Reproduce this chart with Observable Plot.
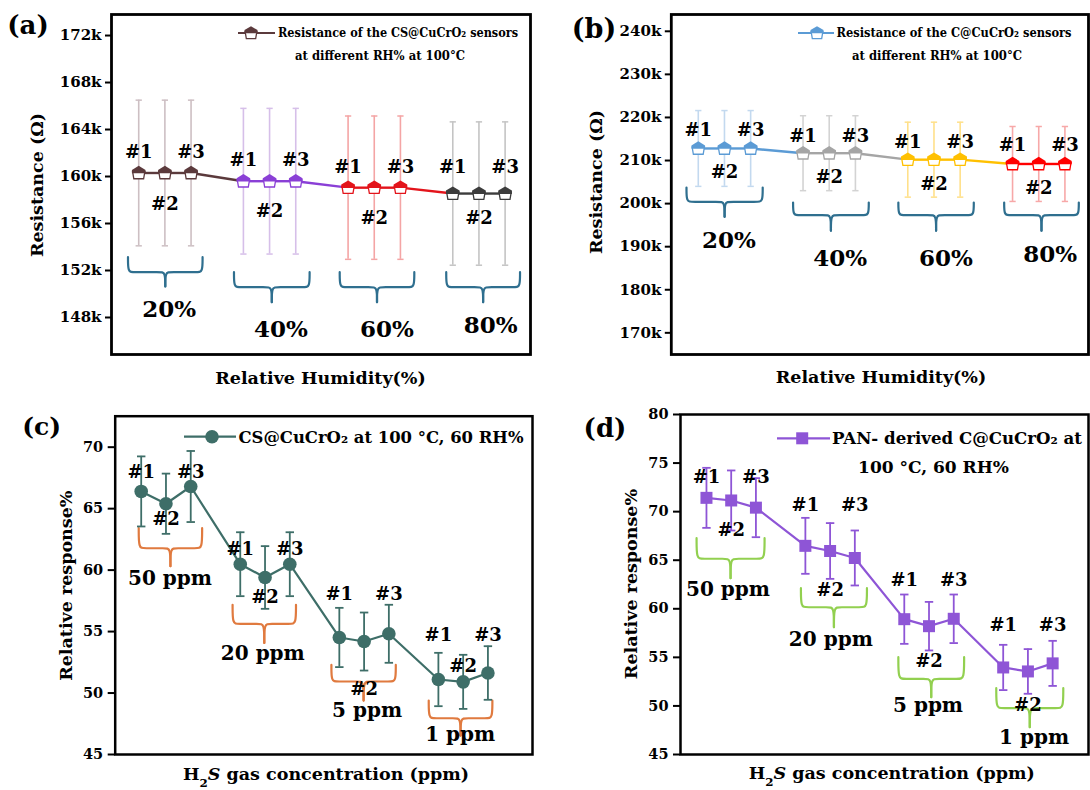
<!DOCTYPE html>
<html><head><meta charset="utf-8">
<script src="https://cdn.jsdelivr.net/npm/d3@7"></script>
<script src="https://cdn.jsdelivr.net/npm/@observablehq/plot@0.6"></script>
<style>
body{margin:0;background:#fff;}
#root{position:relative;width:1090px;height:790px;overflow:hidden;background:#fff;}
.panel{position:absolute;width:545px;height:395px;}
</style></head><body><div id="root"></div>
<script>
// ---------- DATA ----------
const sensors = ["#1", "#2", "#3"];
const rhGroups = ["20%", "40%", "60%", "80%"];
const ppmGroups = ["50 ppm", "20 ppm", "5 ppm", "1 ppm"];
// (a) CS@CuCrO2 resistance (kΩ) per RH group and sensor
const aRes = [[160.3, 160.3, 160.3], [159.6, 159.6, 159.6], [159.05, 159.05, 159.05], [158.55, 158.55, 158.55]];
const aErr = [6.2, 6.2, 6.1, 6.1];
// (b) C@CuCrO2 resistance (kΩ)
const bRes = [[212.8, 212.8, 212.8], [211.7, 211.7, 211.7], [210.2, 210.2, 210.2], [209.2, 209.2, 209.2]];
const bErr = [8.8, 8.7, 8.7, 8.7];
// (c) CS@CuCrO2 relative response %
const cResp = [[66.4, 65.4, 66.8], [60.48, 59.4, 60.48], [54.52, 54.19, 54.82], [51.1, 50.91, 51.63]];
const cErr = [[2.85, 2.45, 2.89], [2.6, 2.55, 2.6], [2.41, 2.36, 2.36], [2.17, 2.2, 2.18]];
// (d) PAN-derived C@CuCrO2 relative response %
const dResp = [[71.42, 71.15, 70.41], [66.48, 65.95, 65.23], [58.93, 58.21, 58.97], [53.96, 53.55, 54.38]];
const dErr = [[3.09, 3.09, 3.04], [2.88, 2.87, 2.83], [2.54, 2.5, 2.5], [2.33, 2.3, 2.32]];
// tick values
const aTicks = [148, 152, 156, 160, 164, 168, 172];
const bTicks = [170, 180, 190, 200, 210, 220, 230, 240];
const cTicks = [45, 50, 55, 60, 65, 70];
const dTicks = [45, 50, 55, 60, 65, 70, 75, 80];

// ---------- STYLE / LAYOUT ----------
const FONT = '"DejaVu Serif", serif';
const aColors = ["#5b3a3c", "#8a3fd6", "#e3141b", "#3c3c3c"];
const aErrColors = ["#cdbfc3", "#d6bfe9", "#f4a5a5", "#c4c4c4"];
const bColors = ["#5b9bd5", "#a5a5a5", "#ffc000", "#ff0000"];
const bErrColors = ["#c3d9ef", "#d3d3d3", "#ffe08a", "#f7a8a8"];
const cColor = "#3e6e68", dColor = "#8e55d6";
const braceBlue = "#2f6f8f", braceOrange = "#e07a3f", braceGreen = "#92d050";

const LA = {ml: 111, mr: 15, mt: 14, mb: 41, xd: [-1.04, 14.97], yd: [144.85, 173.79],
  tagDy: [[-21, 31.5, -21], [-21.4, 30, -21.4], [-20.5, 30.8, -20.5], [-26.4, 24.9, -26.4]],
  brace: {x0: [-0.41, 3.64, 7.68, 11.75], x1: [2.44, 6.53, 10.53, 14.57], end: [153.13, 151.86, 151.86, 151.86], line: [151.86, 150.58, 150.58, 150.58], tip: [150.64, 149.3, 149.3, 149.3]},
  glab: {k: [1.16, 5.43, 9.48, 13.45], v: [148.68, 146.98, 146.98, 147.32]}};
const LB = {ml: 125.8, mr: 2, mt: 14, mb: 41, xd: [-1.03, 14.9], yd: [164.97, 243.9],
  tagDy: [[-18.7, 24, -18.7], [-17, 24, -17], [-17, 25, -17], [-19, 24, -19]],
  brace: {x0: [-0.45, 3.62, 7.64, 11.68], x1: [2.46, 6.51, 10.52, 14.53], end: [203.74, 200.26, 200.26, 200.26], line: [200.42, 197.33, 197.33, 197.33], tip: [196.94, 193.7, 193.7, 193.7]},
  glab: {k: [1.17, 5.42, 9.46, 13.44], v: [191.37, 187.12, 187.12, 188.12]}};
const LC = {ml: 114.7, mr: 13, mt: 20.7, mb: 36, xd: [-1.05, 15.8], yd: [45, 72.52],
  tagDy: [[-19, 16, -14], [-15.4, 19.7, -15.4], [-43.7, 47.5, -40], [-44, -15.6, -37.5]],
  brace: {x0: [-0.1, 3.69, 7.68, 11.61], x1: [2.46, 6.25, 10.28, 14.18], end: [63.41, 57.18, 52.29, 49.39], line: [61.78, 55.63, 50.94, 47.95], tip: [60.32, 54.08, 49.39, 46.54]},
  glab: {k: [1.16, 4.91, 9.12, 12.88], v: [59.34, 53.19, 48.55, 46.6]}};
const LD = {ml: 135, mr: 2, mt: 19, mb: 36, xd: [-1.05, 15.45], yd: [45, 80],
  tagDy: [[-20.6, 29.3, -30.5], [-41, 38.8, -53.2], [-39.4, 35, -39], [-42.7, 34, -38.5]],
  brace: {x0: [-0.4, 3.82, 7.76, 11.72], x1: [2.35, 6.49, 10.42, 14.43], end: [67.27, 62.12, 55.02, 51.83], line: [65.15, 60.16, 52.79, 49.77], tip: [63.15, 58.1, 50.9, 47.81]},
  glab: {k: [0.87, 5.03, 8.96, 13.25], v: [61.95, 56.8, 50.04, 46.78]}};
const W = 545, H = 395;

// ---------- HELPERS ----------
function rowsOf(values, errs, groups, L) {
  const upp = (L.yd[1] - L.yd[0]) / (H - L.mt - L.mb);
  const rows = [];
  values.forEach((grp, g) => grp.forEach((v, i) => {
    const e = Array.isArray(errs[g]) ? errs[g][i] : errs[g];
    rows.push({g, i, k: g * 4 + i, v, e, lo: v - e, hi: v + e, group: groups[g], sensor: sensors[i],
      tagV: v - L.tagDy[g][i] * upp});
  }));
  return rows;
}
function segmentsOf(rows) {
  return rows.slice(0, -1).map((r, j) => ({x1: r.k, y1: r.v, x2: rows[j + 1].k, y2: rows[j + 1].v, g: r.g}));
}
function braceRows(L) {
  const pxk = (W - L.ml - L.mr) / (L.xd[1] - L.xd[0]);
  const c = 5 / pxk, out = [];
  const b = L.brace;
  b.x0.forEach((x0, g) => {
    const x1 = b.x1[g], xm = (x0 + x1) / 2, e = b.end[g], l = b.line[g], t = b.tip[g];
    const left = [[x0, e], [x0, l], [x0 + c, l], [xm - c, l], [xm, l], [xm, t]];
    const right = [[x1, e], [x1, l], [x1 - c, l], [xm + c, l], [xm, l], [xm, t]];
    left.forEach(([x, y]) => out.push({x, y, id: g + "L"}));
    right.forEach(([x, y]) => out.push({x, y, id: g + "R"}));
  });
  return out;
}
function groupLabelRows(L, names) {
  return names.map((n, g) => ({k: L.glab.k[g], v: L.glab.v[g], name: n}));
}
const roof = {draw(ctx, size) {
  const r = Math.sqrt(size / Math.PI);
  ctx.moveTo(0, -1.05 * r); ctx.lineTo(r, -0.45 * r); ctx.lineTo(r, 0.05 * r);
  ctx.lineTo(-r, 0.05 * r); ctx.lineTo(-r, -0.45 * r); ctx.closePath();
}};
const cup = {draw(ctx, size) {
  const r = Math.sqrt(size / Math.PI);
  ctx.moveTo(-0.9 * r, -0.2 * r); ctx.lineTo(0.9 * r, -0.2 * r); ctx.lineTo(0.72 * r, 0.85 * r);
  ctx.lineTo(-0.72 * r, 0.85 * r); ctx.closePath();
}};

function addText(svg, x, y, parts, o = {}) {
  const t = d3.select(svg).append("text")
    .attr("transform", `translate(${x},${y})${o.rotate ? ` rotate(${o.rotate})` : ""}`)
    .attr("text-anchor", o.anchor || "middle")
    .attr("dy", "0.35em")
    .attr("font-family", FONT).attr("font-weight", "bold")
    .attr("font-size", o.size || 17).attr("fill", "black");
  if (o.length) t.attr("textLength", o.length).attr("lengthAdjust", "spacingAndGlyphs");
  if (typeof parts === "string") { t.text(parts); return t; }
  parts.forEach(p => {
    if (typeof p === "string") t.append("tspan").text(p);
    else {
      const ts = t.append("tspan").text(p.t);
      if (p.sub) ts.attr("baseline-shift", "sub").attr("font-size", "68%");
      if (p.italic) ts.attr("font-style", "italic");
    }
  });
  return t;
}
function legendHouse(svg, x1, x2, xm, y, color) {
  const s = d3.select(svg).append("g");
  s.append("line").attr("x1", x1).attr("x2", x2).attr("y1", y).attr("y2", y).attr("stroke", color).attr("stroke-width", 2.2);
  const size = Math.PI * 6.5 * 6.5;
  s.append("path").attr("transform", `translate(${xm},${y})`).attr("d", d3.symbol(cup, size)()).attr("fill", "white").attr("stroke", color).attr("stroke-width", 1.3);
  s.append("path").attr("transform", `translate(${xm},${y})`).attr("d", d3.symbol(roof, size)()).attr("fill", color);
}

function basePlot(L, ticks, fmt, marks, tickOpts) {
  return Plot.plot({
    width: W, height: H, marginLeft: L.ml, marginRight: L.mr, marginTop: L.mt, marginBottom: L.mb,
    x: {domain: L.xd, axis: null},
    y: {domain: L.yd, axis: null},
    color: {type: "identity"},
    style: {fontFamily: FONT, fontWeight: "bold", background: "white", overflow: "visible"},
    marks: [
      ...marks,
      Plot.frame({stroke: "black", strokeWidth: tickOpts.frame}),
      Plot.axisY({ticks, tickFormat: fmt, tickSize: tickOpts.size, tickPadding: tickOpts.pad,
        fontSize: tickOpts.font, fontWeight: "bold", strokeWidth: 2, label: null})
    ]
  });
}

function resistancePanel(rows, L, colors, errColors, ticks, names) {
  return basePlot(L, ticks, d => d + "k", [
    Plot.ruleX(rows, {x: "k", y1: "lo", y2: "hi", stroke: d => errColors[d.g], strokeWidth: 1.6}),
    Plot.link(rows, {x1: d => d.k - 0.12, x2: d => d.k + 0.12, y1: "hi", y2: "hi", stroke: d => errColors[d.g], strokeWidth: 1.5}),
    Plot.link(rows, {x1: d => d.k - 0.12, x2: d => d.k + 0.12, y1: "lo", y2: "lo", stroke: d => errColors[d.g], strokeWidth: 1.5}),
    Plot.line(braceRows(L), {x: "x", y: "y", z: "id", stroke: braceBlue, strokeWidth: 2.2, curve: "basis"}),
    Plot.link(segmentsOf(rows), {x1: "x1", y1: "y1", x2: "x2", y2: "y2", stroke: d => colors[d.g], strokeWidth: 2.4}),
    Plot.dot(rows, {x: "k", y: "v", symbol: cup, r: 6.8, fill: "white", stroke: d => colors[d.g], strokeWidth: 1.3}),
    Plot.dot(rows, {x: "k", y: "v", symbol: roof, r: 6.8, fill: d => colors[d.g]}),
    Plot.text(rows, {x: "k", y: "tagV", text: "sensor", fontSize: 18, fontWeight: "bold", fill: "black"}),
    Plot.text(groupLabelRows(L, names), {x: "k", y: "v", text: "name", fontSize: 23, fontWeight: "bold", fill: "black"})
  ], {frame: 2.8, size: 6, pad: 4, font: 15});
}

function responsePanel(rows, L, color, braceColor, ticks, names, symbol, r) {
  return basePlot(L, ticks, d => d, [
    Plot.line(braceRows(L), {x: "x", y: "y", z: "id", stroke: braceColor, strokeWidth: 2.2, curve: "basis"}),
    Plot.ruleX(rows, {x: "k", y1: "lo", y2: "hi", stroke: color, strokeWidth: 1.8}),
    Plot.link(rows, {x1: d => d.k - 0.17, x2: d => d.k + 0.17, y1: "hi", y2: "hi", stroke: color, strokeWidth: 1.8}),
    Plot.link(rows, {x1: d => d.k - 0.17, x2: d => d.k + 0.17, y1: "lo", y2: "lo", stroke: color, strokeWidth: 1.8}),
    Plot.line(rows, {x: "k", y: "v", stroke: color, strokeWidth: 2.2}),
    Plot.dot(rows, {x: "k", y: "v", symbol, r, fill: color, stroke: "none"}),
    Plot.text(rows, {x: "k", y: "tagV", text: "sensor", fontSize: 18, fontWeight: "bold", fill: "black"}),
    Plot.text(groupLabelRows(L, names), {x: "k", y: "v", text: "name", fontSize: 20, fontWeight: "bold", fill: "black"})
  ], {frame: 2.5, size: 7, pad: 5, font: 14.5});
}

// ---------- BUILD ----------
const root = document.getElementById("root");
function place(svg, left, top) {
  const div = document.createElement("div");
  div.className = "panel"; div.style.left = left + "px"; div.style.top = top + "px";
  div.appendChild(svg); root.appendChild(div);
}

// (a)
const rowsA = rowsOf(aRes, aErr, rhGroups, LA);
const svgA = resistancePanel(rowsA, LA, aColors, aErrColors, aTicks, rhGroups);
addText(svgA, 28, 25, "(a)", {size: 26});
addText(svgA, 36.5, 185, "Resistance (Ω)", {rotate: -90, size: 17.5});
addText(svgA, 320.5, 378, "Relative Humidity(%)", {size: 17.5});
legendHouse(svgA, 238, 275, 251, 33, aColors[0]);
addText(svgA, 278, 33, "Resistance of the CS@CuCrO₂ sensors", {anchor: "start", size: 12, length: 240});
addText(svgA, 380, 56, "at different RH% at 100°C", {size: 12, length: 170});
place(svgA, 0, 0);

// (b)
const rowsB = rowsOf(bRes, bErr, rhGroups, LB);
const svgB = resistancePanel(rowsB, LB, bColors, bErrColors, bTicks, rhGroups);
addText(svgB, 49, 29, "(b)", {size: 27});
addText(svgB, 51, 182, "Resistance (Ω)", {rotate: -90, size: 17.5});
addText(svgB, 336, 377, "Relative Humidity(%)", {size: 17.5});
legendHouse(svgB, 253, 289, 272, 33, bColors[0]);
addText(svgB, 291.5, 33, "Resistance of the C@CuCrO₂ sensors", {anchor: "start", size: 12, length: 235});
addText(svgB, 392, 56, "at different RH% at 100°C", {size: 12, length: 170});
place(svgB, 545, 0);

// (c)
const rowsC = rowsOf(cResp, cErr, ppmGroups, LC);
const svgC = responsePanel(rowsC, LC, cColor, braceOrange, cTicks, ppmGroups, "circle", 6.8);
addText(svgC, 41.7, 31, "(c)", {size: 25});
addText(svgC, 66, 190.7, "Relative response%", {rotate: -90, size: 17.5});
addText(svgC, 326, 379, ["H", {t: "2", sub: true}, {t: "S", italic: true}, " gas concentration (ppm)"], {size: 17.5});
{
  const g = d3.select(svgC).append("g");
  g.append("line").attr("x1", 184).attr("x2", 236).attr("y1", 41.7).attr("y2", 41.7).attr("stroke", cColor).attr("stroke-width", 2.2);
  g.append("circle").attr("cx", 212).attr("cy", 41.7).attr("r", 6.8).attr("fill", cColor);
}
addText(svgC, 238.5, 41.7, "CS@CuCrO₂ at 100 °C, 60 RH%", {anchor: "start", size: 17, length: 285});
place(svgC, 0, 395);

// (d)
const rowsD = rowsOf(dResp, dErr, ppmGroups, LD);
const svgD = responsePanel(rowsD, LD, dColor, braceGreen, dTicks, ppmGroups, "square", 6.77);
addText(svgD, 60, 33, "(d)", {size: 26});
addText(svgD, 86, 189, "Relative response%", {rotate: -90, size: 17.5});
addText(svgD, 346.7, 378, ["H", {t: "2", sub: true}, {t: "S", italic: true}, " gas concentration (ppm)"], {size: 17.5});
{
  const g = d3.select(svgD).append("g");
  g.append("line").attr("x1", 232).attr("x2", 285).attr("y1", 43.3).attr("y2", 43.3).attr("stroke", dColor).attr("stroke-width", 2.2);
  g.append("rect").attr("x", 257.2 - 6).attr("y", 43.3 - 6).attr("width", 12).attr("height", 12).attr("fill", dColor);
}
addText(svgD, 287, 43.3, "PAN- derived C@CuCrO₂ at", {anchor: "start", size: 17, length: 250});
addText(svgD, 388.5, 71.7, "100 °C, 60 RH%", {size: 17});
place(svgD, 545, 395);
</script></body></html>
